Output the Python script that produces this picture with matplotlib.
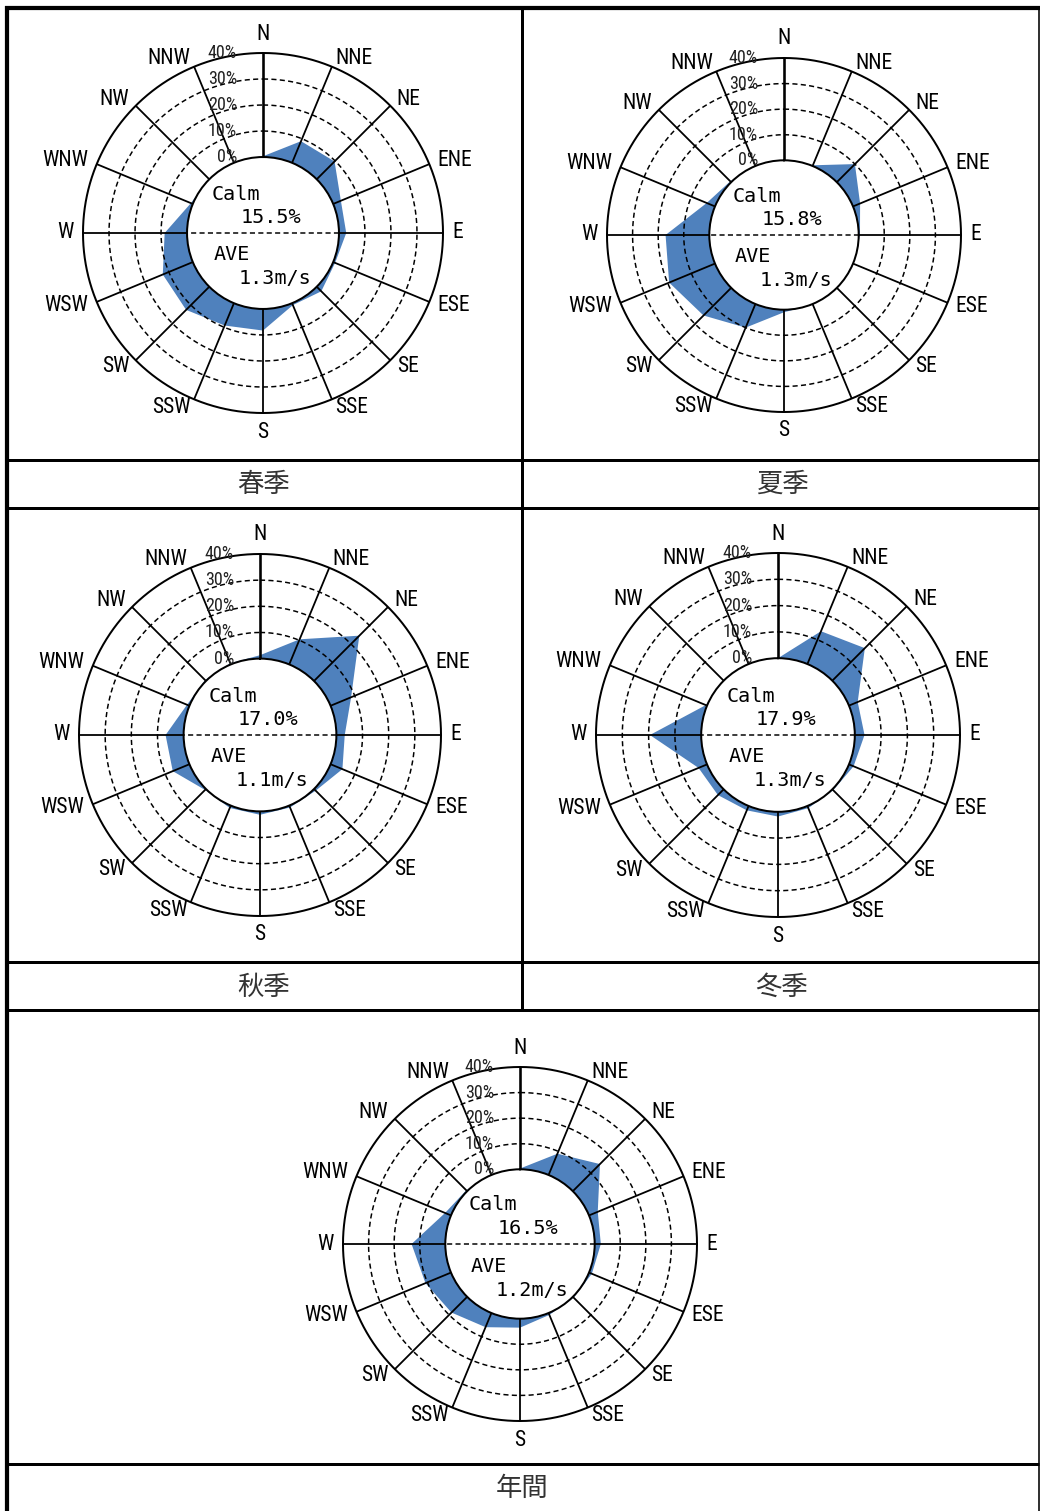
import numpy as np
import matplotlib
matplotlib.use("Agg")
import matplotlib.pyplot as plt
from matplotlib import font_manager as fm
from matplotlib.font_manager import FontProperties
from matplotlib.transforms import offset_copy

# ---- data -----------------------------------------------------------------
directions = ["N", "NNE", "NE", "ENE", "E", "ESE", "SE", "SSE",
              "S", "SSW", "SW", "WSW", "W", "WNW", "NW", "NNW"]
ring_values = [0, 10, 20, 30, 40]
ring_labels = ["0%", "10%", "20%", "30%", "40%"]

# wind direction frequency (%) per 16 directions
spring = [0.3, 9.0, 9.7, 3.2, 2.8, 0.8, 2.5, 0.8, 8.3, 9.3, 12.6, 12.5, 8.6, 0.8, 0.3, 0.3]
summer = [0.2, 0.3, 10.0, 3.0, 0.5, 0.2, 0.2, 0.3, 1.0, 10.0, 15.3, 19.4, 17.1, 3.5, 0.5, 0.2]
autumn = [1.3, 10.4, 24.5, 8.5, 3.2, 4.9, 0.9, 0.8, 1.3, 1.0, 0.5, 6.9, 6.9, 1.0, 0.5, 0.5]
winter = [0.0, 13.5, 17.5, 3.6, 3.7, 1.9, 0.5, 0.9, 1.8, 1.8, 3.1, 3.5, 19.5, 0.5, 0.3, 0.3]
annual = [0.3, 9.0, 15.0, 3.7, 2.4, 1.2, 0.5, 0.8, 3.5, 6.0, 8.7, 10.8, 13.2, 2.5, 0.5, 0.3]

period_names = ["春季", "夏季", "秋季", "冬季", "年間"]
calm_pct = [15.5, 15.8, 17.0, 17.9, 16.5]
mean_speed = [1.3, 1.3, 1.1, 1.3, 1.2]

# ---- page geometry (pixels) ------------------------------------------------
W_PX, H_PX, DPI = 1040, 1511, 100
FILL = "#4F81BD"
RMAX = 40.0
CALM_FRAC = 0.422            # radius of the calm disc relative to the 40 % ring
RORIGIN = -RMAX * CALM_FRAC / (1 - CALM_FRAC)

# centre x, centre y, outer radius of every rose
rose_frames = [(263, 233, 180), (784, 235, 177), (260, 735, 181),
               (778, 735, 182), (520, 1244, 177)]
label_centres = [(264, 484), (782, 484), (264, 987), (782, 987), (522, 1488)]


def px2pt(px):
    return px * 72.0 / DPI


def _upright_regular(f):
    return f.style == "normal" and f.weight in (400, "normal", "regular")


def narrow_font():
    """Pick an upright narrow sans face if one is installed, else a monospace one."""
    entries = fm.fontManager.ttflist
    for want in ["Liberation Sans Narrow", "Roboto Condensed", "Open Sans Condensed",
                 "Noto Sans Condensed", "DejaVu Sans Condensed"]:
        for f in entries:
            if f.name == want and _upright_regular(f):
                return FontProperties(fname=f.fname)
    for fam in ["Roboto", "Noto Sans", "Open Sans", "DejaVu Sans", "Liberation Sans"]:
        for f in entries:
            if (f.name == fam and f.stretch in ("condensed", "semi-condensed")
                    and _upright_regular(f)):
                return FontProperties(fname=f.fname)
    return FontProperties(family="DejaVu Sans Mono")


LATIN = narrow_font()
MONO = FontProperties(family="DejaVu Sans Mono")
JP = ["Noto Sans CJK JP", "DejaVu Sans"]


def fp(base, size):
    p = base.copy()
    p.set_size(size)
    return p


fig = plt.figure(figsize=(W_PX / DPI, H_PX / DPI), dpi=DPI)
fig.patch.set_facecolor("white")

# ---- table frame ----------------------------------------------------------
frame = fig.add_axes([0, 0, 1, 1])
frame.set_xlim(0, W_PX)
frame.set_ylim(H_PX, 0)
frame.axis("off")
thick, mid = px2pt(4.2), px2pt(3.0)
frame.plot([5, W_PX], [8, 8], color="black", lw=thick, solid_capstyle="butt")
frame.plot([7, 7], [6, H_PX], color="black", lw=thick, solid_capstyle="butt")
frame.plot([1039, 1039], [8, H_PX], color="black", lw=px2pt(1.6))
for y in [460, 508, 962, 1010, 1464]:
    frame.plot([7, 1039], [y, y], color="black", lw=mid, solid_capstyle="butt")
frame.plot([522, 522], [8, 1010], color="black", lw=mid, solid_capstyle="butt")

for name, (lx, ly) in zip(period_names, label_centres):
    frame.text(lx, ly, name, ha="center", va="center", fontsize=19,
               family=JP, color="#333333")

# ---- wind roses -----------------------------------------------------------
theta = np.deg2rad(np.arange(len(directions)) * 22.5)
theta_closed = np.append(theta, theta[0])
circle_t = np.linspace(0, 2 * np.pi, 361)
series = [spring, summer, autumn, winter, annual]


def r_at_px(px, R):
    """radial data value that sits `px` pixels from the centre"""
    return px / R * (RMAX - RORIGIN) + RORIGIN


for k, (vals, (cx, cy, R)) in enumerate(zip(series, rose_frames)):
    ax = fig.add_axes([(cx - R) / W_PX, (H_PX - cy - R) / H_PX,
                       2 * R / W_PX, 2 * R / H_PX], projection="polar")
    ax.set_theta_zero_location("N")
    ax.set_theta_direction(-1)
    ax.set_ylim(0, RMAX)
    ax.set_rorigin(RORIGIN)
    ax.set_xticks([])
    ax.set_yticks([])
    ax.grid(False)
    ax.spines["polar"].set_visible(False)
    ax.spines["inner"].set_linewidth(px2pt(2.0))
    ax.spines["inner"].set_zorder(5)
    ax.patch.set_facecolor("white")

    v = np.append(np.asarray(vals, float), vals[0])
    ax.fill(theta_closed, v, color=FILL, lw=0, zorder=1)

    for rv in ring_values[1:-1]:
        ax.plot(circle_t, np.full(circle_t.size, rv), color="black",
                lw=px2pt(1.5), ls=(0, (3.4, 2.2)), zorder=3)
    ax.plot(circle_t, np.full(circle_t.size, RMAX), color="black",
            lw=px2pt(2.0), zorder=4, clip_on=False)
    for i, t in enumerate(theta):
        ax.plot([t, t], [0, RMAX], color="black",
                lw=px2pt(2.6 if i == 0 else 1.8), zorder=4)

    # dashed diameter across the calm disc
    ax.plot([np.pi / 2, 3 * np.pi / 2], [0, 0], color="black", lw=px2pt(1.5),
            ls=(0, (3.4, 2.2)), zorder=5, clip_on=False)

    # direction labels
    for name, t in zip(directions, theta):
        s = np.sin(t)
        if abs(s) < 0.1:
            ha = "center"
            rr = r_at_px(R + 19, R)
        else:
            ha = "left" if s > 0 else "right"
            rr = r_at_px(R + 9, R)
        ax.text(t, rr, name, ha=ha, va="center", fontproperties=fp(LATIN, 15.5),
                clip_on=False)

    # ring labels, right-aligned a little left of the north spoke
    tr = offset_copy(ax.transData, fig=fig, x=-26, y=0, units="dots")
    for rv, lab in zip(ring_values, ring_labels):
        ax.text(0, rv, lab, transform=tr, ha="right", va="center",
                fontproperties=fp(LATIN, 13), color="#222222", zorder=6)

    # calm share and mean speed inside the disc
    sc = 1.0 / (2 * R)
    txt = dict(transform=ax.transAxes, ha="center", va="center",
               fontproperties=fp(MONO, 14.5), zorder=7)
    ax.text(0.5 - 27 * sc, 0.5 + 39 * sc, "Calm", **txt)
    ax.text(0.5 + 8 * sc, 0.5 + 15.5 * sc, f"{calm_pct[k]:.1f}%", **txt)
    ax.text(0.5 - 31 * sc, 0.5 - 22 * sc, "AVE", **txt)
    ax.text(0.5 + 12 * sc, 0.5 - 46 * sc, f"{mean_speed[k]:.1f}m/s", **txt)

fig.savefig("out.png", dpi=DPI, facecolor="white")
